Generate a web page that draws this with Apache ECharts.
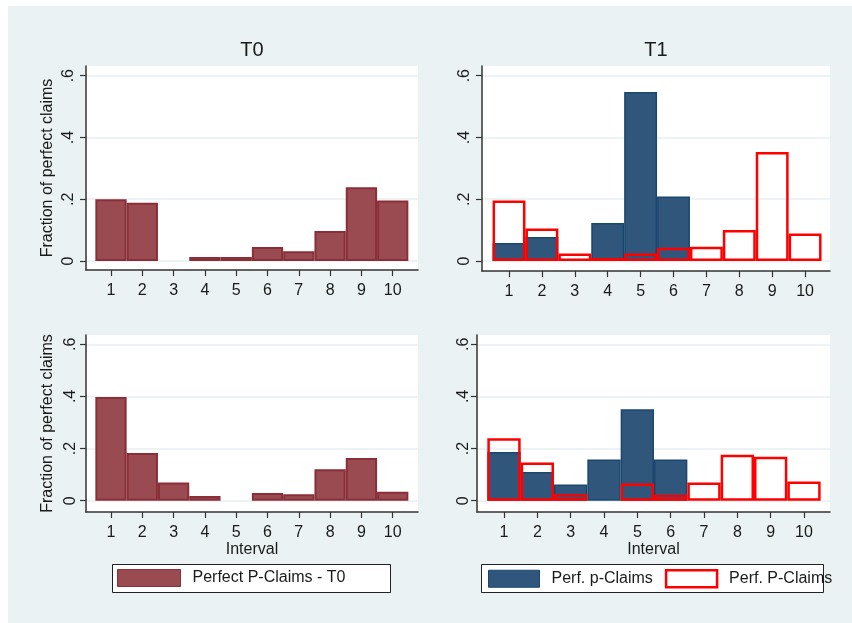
<!DOCTYPE html>
<html><head><meta charset="utf-8">
<script src="https://cdn.jsdelivr.net/npm/echarts@6/dist/echarts.min.js"></script>
<style>html,body{margin:0;padding:0;background:#fff}#c{width:852px;height:623px}</style>
</head><body><div id="c"></div><script>
// ---- data ----
const intervals = [1, 2, 3, 4, 5, 6, 7, 8, 9, 10];
const yTicks = [0, 0.2, 0.4, 0.6];
const panelTitles = ['T0', 'T1'];
const t0Top = [0.200, 0.189, 0, 0.013, 0.013, 0.045, 0.032, 0.097, 0.239, 0.196];
const t1TopPerfLower = [0.058, 0.078, 0, 0.123, 0.547, 0.209, 0, 0, 0, 0];
const t1TopPerfUpper = [0.196, 0.105, 0.024, 0.010, 0.024, 0.043, 0.046, 0.100, 0.353, 0.089];
const t0Bottom = [0.398, 0.183, 0.070, 0.018, 0, 0.030, 0.025, 0.121, 0.164, 0.034];
const t1BottomPerfLower = [0.187, 0.110, 0.062, 0.158, 0.351, 0.158, 0, 0, 0, 0];
const t1BottomPerfUpper = [0.240, 0.147, 0.025, 0, 0.066, 0.023, 0.070, 0.176, 0.169, 0.074];
const nameT0 = 'Perfect P-Claims - T0';
const nameLower = 'Perf. p-Claims';
const nameUpper = 'Perf. P-Claims';

// ---- styles ----
const FONT = '"Liberation Sans", Arial, sans-serif';
const TXT = '#1a1a1a';
const BG = '#eaf2f3';
const MAROON_FILL = '#9a4a51', MAROON_LINE = '#8a2f38';
const NAVY_FILL = '#30577b', NAVY_LINE = '#1a476f';

const toSeries = arr => arr.map((v, i) => [intervals[i], v === 0 ? '-' : v]);

const gridsDef = [
  {left: 86, top: 66, width: 332, height: 204, xMin: 0.2013, xMax: 10.808, yMin: -0.0291, yMax: 0.6314, yName: true, xName: false, lblMargin: 9},
  {left: 482, top: 66, width: 348, height: 205, xMin: 0.179, xMax: 10.757, yMin: -0.0324, yMax: 0.6314, yName: false, xName: false, lblMargin: 9},
  {left: 86, top: 335, width: 332, height: 177, xMin: 0.2013, xMax: 10.808, yMin: -0.0433, yMax: 0.6357, yName: true, xName: true, lblMargin: 7},
  {left: 477, top: 335, width: 353, height: 177, xMin: 0.19, xMax: 10.78, yMin: -0.0433, yMax: 0.6357, yName: false, xName: true, lblMargin: 5}
];

const axisLine = {show: true, onZero: false, lineStyle: {color: '#333', width: 1.5}};
const grid = gridsDef.map(g => ({left: g.left, top: g.top, width: g.width, height: g.height,
  show: true, backgroundColor: '#fff', borderWidth: 0, containLabel: false}));
const xAxis = gridsDef.map((g, i) => ({
  type: 'value', gridIndex: i, min: g.xMin, max: g.xMax,
  axisLine: axisLine,
  axisTick: {show: true, length: 6, customValues: intervals, lineStyle: {color: '#333', width: 1.2}},
  axisLabel: {customValues: intervals, margin: 13, fontSize: 16, fontFamily: FONT, color: TXT},
  splitLine: {show: false},
  name: g.xName ? 'Interval' : '', nameLocation: 'middle', nameGap: 24,
  nameTextStyle: {fontSize: 16, fontFamily: FONT, color: TXT}
}));
const yAxis = gridsDef.map((g, i) => ({
  type: 'value', gridIndex: i, min: g.yMin, max: g.yMax,
  axisLine: axisLine,
  axisTick: {show: true, length: 6, customValues: yTicks, lineStyle: {color: '#333', width: 1.2}},
  axisLabel: {customValues: yTicks, rotate: 90, margin: g.lblMargin, fontSize: 16, fontFamily: FONT, color: TXT,
    formatter: v => (Math.abs(v) < 1e-9 ? '0' : String(+v.toFixed(2)).replace(/^0/, ''))},
  splitLine: {show: true, lineStyle: {color: '#e6eff1', width: 1.5}},
  name: g.yName ? 'Fraction of perfect claims' : '', nameLocation: 'middle', nameGap: 30,
  nameTextStyle: {fontSize: 16, fontFamily: FONT, color: TXT}
}));

function maroonSeries(idx, arr) {
  return {type: 'bar', name: nameT0, xAxisIndex: idx, yAxisIndex: idx, data: toSeries(arr),
    barWidth: '100%', barGap: '-100%', silent: true, animation: false,
    itemStyle: {color: MAROON_FILL, borderColor: MAROON_LINE, borderWidth: 2}};
}
function navySeries(idx, arr) {
  return {type: 'bar', name: nameLower, xAxisIndex: idx, yAxisIndex: idx, data: toSeries(arr),
    barWidth: '100%', barGap: '-100%', silent: true, animation: false, z: 2,
    itemStyle: {color: NAVY_FILL, borderColor: NAVY_LINE, borderWidth: 1.5}};
}
function redSeries(idx, arr) {
  return {type: 'bar', name: nameUpper, xAxisIndex: idx, yAxisIndex: idx, data: toSeries(arr),
    barWidth: '100%', barGap: '-100%', silent: true, animation: false, z: 3,
    itemStyle: {color: 'rgba(255,255,255,0)', borderColor: '#ff0000', borderWidth: 2.5}};
}

const series = [
  maroonSeries(0, t0Top),
  navySeries(1, t1TopPerfLower), redSeries(1, t1TopPerfUpper),
  maroonSeries(2, t0Bottom),
  navySeries(3, t1BottomPerfLower), redSeries(3, t1BottomPerfUpper)
];

const legTxt = {fontSize: 16, fontFamily: FONT, color: TXT, padding: [0, 0, 0, 7]};
const legend = [
  {data: [{name: nameT0, icon: 'rect', itemStyle: {color: MAROON_FILL, borderColor: MAROON_LINE, borderWidth: 1}}],
   left: 117, top: 569, padding: 0, itemWidth: 63, itemHeight: 17, selectedMode: false, textStyle: legTxt},
  {data: [{name: nameLower, icon: 'rect', itemStyle: {color: NAVY_FILL, borderColor: NAVY_LINE, borderWidth: 1}},
          {name: nameUpper, icon: 'rect', itemStyle: {color: '#fff', borderColor: '#ff0000', borderWidth: 2.5}}],
   left: 488, top: 569, padding: 0, itemWidth: 51, itemHeight: 17, itemGap: 12, selectedMode: false, textStyle: legTxt}
];

const graphic = [
  {type: 'rect', z: -10, silent: true, shape: {x: 8, y: 6, width: 844, height: 617}, style: {fill: BG}},
  {type: 'rect', z: 1, silent: true, shape: {x: 112.5, y: 564.5, width: 278, height: 28}, style: {fill: '#fff', stroke: '#222', lineWidth: 1}},
  {type: 'rect', z: 1, silent: true, shape: {x: 481.5, y: 564.5, width: 342, height: 28}, style: {fill: '#fff', stroke: '#222', lineWidth: 1}},
  {type: 'text', z: 5, silent: true, x: 252, y: 50, style: {text: panelTitles[0], align: 'center', verticalAlign: 'middle', fontSize: 20, fontFamily: FONT, fill: TXT}},
  {type: 'text', z: 5, silent: true, x: 656, y: 50, style: {text: panelTitles[1], align: 'center', verticalAlign: 'middle', fontSize: 20, fontFamily: FONT, fill: TXT}}
];

const chart = echarts.init(document.getElementById('c'), null, {renderer: 'canvas'});
chart.setOption({animation: false, backgroundColor: '#fff', grid, xAxis, yAxis, series, legend, graphic});
</script></body></html>
